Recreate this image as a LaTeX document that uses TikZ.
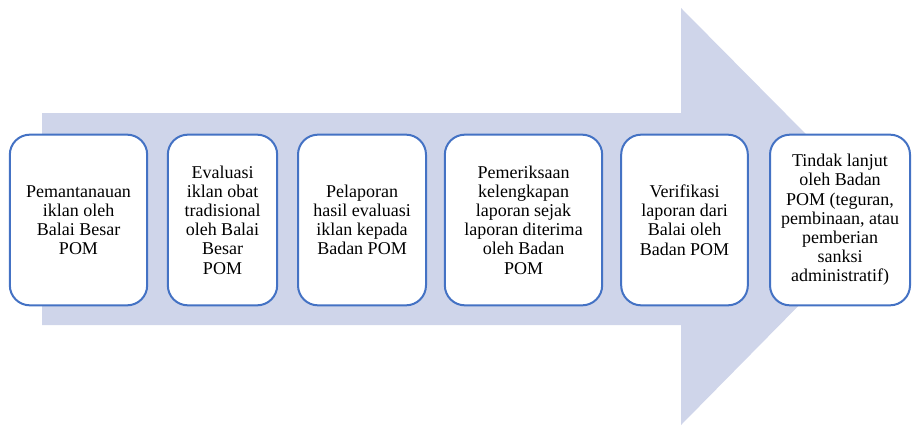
\documentclass[tikz,border=0pt]{standalone}
\usepackage{fontspec}
\setmainfont{Liberation Serif}
\usepackage{tikz}
\definecolor{arrowfill}{RGB}{207,213,234}
\definecolor{boxline}{RGB}{68,114,196}

\begin{document}
\begin{tikzpicture}[x=0.75pt, y=-0.75pt, stepbox/.style = {draw=boxline, line width=1.5pt, fill=white, rounded corners=15pt, minimum height=128pt, align=center, inner sep=2pt, font=\rmfamily\fontsize{13.5}{14.4}\selectfont}]
        \useasboundingbox (0,0) rectangle (912,428);

        % big background arrow
        \fill[arrowfill] (42,113) -- (681,113) -- (681,8) -- (887,216) -- (681,425) -- (681,325) -- (42,325) -- cycle;

        \node[stepbox, minimum width=103pt] (s1) at (78.5,220) {Pemantanauan\\iklan oleh\\Balai Besar\\POM};
        \node[stepbox, minimum width=82pt] (s2) at (222.5,220) {Evaluasi\\iklan obat\\tradisional\\oleh Balai\\Besar\\POM};
        \node[stepbox, minimum width=96pt] (s3) at (362,220) {Pelaporan\\hasil evaluasi\\iklan kepada\\Badan POM};
        \node[stepbox, minimum width=118pt] (s4) at (523.5,220) {Pemeriksaan\\kelengkapan\\laporan sejak\\laporan diterima\\oleh Badan\\POM};
        \node[stepbox, minimum width=95pt] (s5) at (684.5,220) {Verifikasi\\laporan dari\\Balai oleh\\Badan POM};
        \node[stepbox, minimum width=105pt] (s6) at (840,220) {Tindak lanjut\\oleh Badan\\POM (teguran,\\pembinaan, atau\\pemberian\\sanksi\\administratif)};
    \end{tikzpicture}
\end{document}
